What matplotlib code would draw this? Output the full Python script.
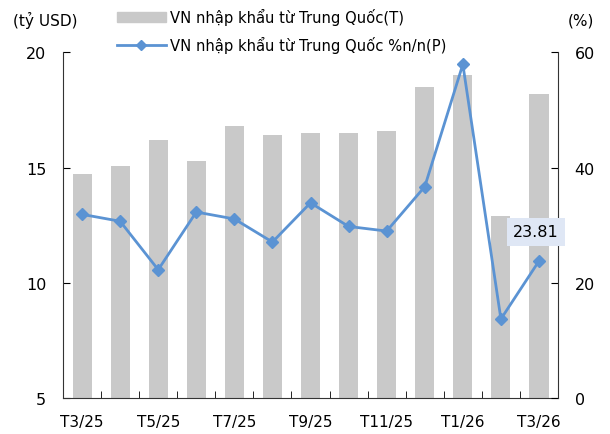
import numpy as np
import matplotlib.pyplot as plt
from matplotlib.lines import Line2D
from matplotlib.patches import Patch

plt.rcParams['font.family'] = ['DejaVu Sans']

months = ['T3/25', 'T4/25', 'T5/25', 'T6/25', 'T7/25', 'T8/25', 'T9/25',
          'T10/25', 'T11/25', 'T12/25', 'T1/26', 'T2/26', 'T3/26']
imports = [14.74, 15.07, 16.21, 15.29, 16.79, 16.42, 16.50,
           16.50, 16.60, 18.51, 19.02, 12.90, 18.21]
yoy = [31.9, 30.7, 22.3, 32.3, 31.1, 27.1, 33.9,
       29.8, 29.0, 36.7, 57.9, 13.75, 23.81]

bar_color = '#c9c9c9'
line_color = '#5b93d3'

fig = plt.figure(figsize=(6.1, 4.35), dpi=100)
ax = fig.add_axes([0.1033, 0.082, 0.8115, 0.7955])
x = np.arange(len(months))

ax.bar(x, imports, width=0.5, color=bar_color, zorder=1)
ax.set_ylim(5, 20)
ax.set_yticks([5, 10, 15, 20])
ax.set_xlim(-0.5, len(months) - 0.5)

ax2 = ax.twinx()
ax2.plot(x, yoy, color=line_color, lw=2, marker='D', ms=6, zorder=3)
ax2.set_ylim(0, 60)
ax2.set_yticks([0, 20, 40, 60])

# nhãn điểm cuối
ax2.annotate('23.81', (x[-1], yoy[-1]), xytext=(-2, 21), textcoords='offset points',
             ha='center', va='center', fontsize=11.5,
             bbox=dict(boxstyle='square,pad=0.4', fc='#dfe7f5', ec='none'))

ax.set_xticks(x)
ax.set_xticklabels([m if i % 2 == 0 else '' for i, m in enumerate(months)], fontsize=11)
ax.set_xticks(np.arange(0.5, len(months) - 1, 1), minor=True)
ax.tick_params(axis='x', which='major', length=0, pad=11)
ax.tick_params(axis='x', which='minor', length=5, direction='in')
ax.tick_params(axis='y', direction='in', length=5, labelsize=11.5, pad=12)
ax2.tick_params(axis='y', direction='in', length=5, labelsize=11.5, pad=12)

for a in (ax, ax2):
    a.spines['top'].set_visible(False)
    for s in ('left', 'right', 'bottom'):
        a.spines[s].set_color('#333333')
ax.spines['right'].set_visible(False)
ax2.spines['left'].set_visible(False)
ax2.spines['bottom'].set_visible(False)

fig.text(0.022, 0.952, '(tỷ USD)', fontsize=11, va='center')
fig.text(0.93, 0.952, '(%)', fontsize=11, va='center')

handles = [Patch(color=bar_color),
           Line2D([0], [0], color=line_color, lw=2, marker='D', ms=5)]
labels = ['VN nhập khẩu từ Trung Quốc(T)', 'VN nhập khẩu từ Trung Quốc %n/n(P)']
fig.legend(handles, labels, loc='upper left', bbox_to_anchor=(0.17, 1.01),
           frameon=False, fontsize=10.6, handlelength=3.3, labelspacing=0.75,
           handletextpad=0.3)

fig.savefig('out.png', dpi=100)
